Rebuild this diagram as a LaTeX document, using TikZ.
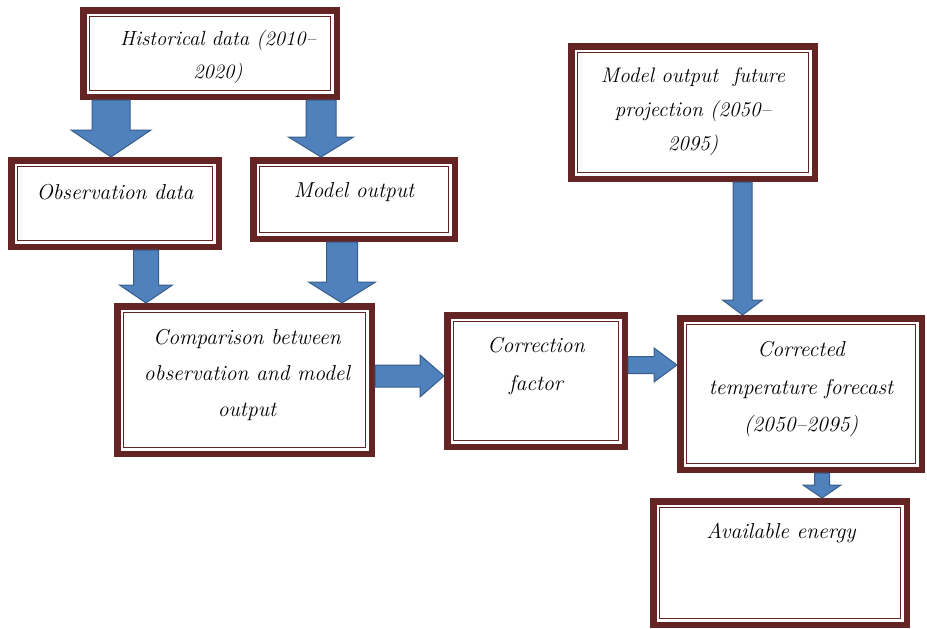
\documentclass[tikz,border=0pt]{standalone}
\usepackage{tikz}
\usetikzlibrary{positioning, calc}

\begin{document}
\begin{tikzpicture}
        [ x=1pt, y=-1pt
        , box/.style={draw=border, line width=6.5pt, fill=white, inner sep=0pt,
            path picture={\draw[border, line width=1.3pt]
              ([shift={(6pt,-6pt)}]path picture bounding box.north west) rectangle
              ([shift={(-6pt,6pt)}]path picture bounding box.south east);}}
        , txt/.style={font=\itshape\fontsize{21.6}{36}\selectfont, align=center, inner sep=0pt}
        , fat/.style={draw=arrowedge, fill=arrowfill, line width=1pt, line join=miter}
        ]
        \definecolor{border}{HTML}{632423}
        \definecolor{arrowfill}{HTML}{4F81BD}
        \definecolor{arrowedge}{HTML}{385D8A}
        % block arrows: from, to, half shaft, half head, head length
        \newcommand{\vfat}[5]{\draw[fat] ($(#1)+(-#3,0)$) -- ($(#2)+(-#3,-#5)$)
            -- ($(#2)+(-#4,-#5)$) -- (#2) -- ($(#2)+(#4,-#5)$)
            -- ($(#2)+(#3,-#5)$) -- ($(#1)+(#3,0)$) -- cycle;}
        \newcommand{\hfat}[5]{\draw[fat] ($(#1)+(0,-#3)$) -- ($(#2)+(-#5,-#3)$)
            -- ($(#2)+(-#5,-#4)$) -- (#2) -- ($(#2)+(-#5,#4)$)
            -- ($(#2)+(-#5,#3)$) -- ($(#1)+(0,#3)$) -- cycle;}

        \useasboundingbox (0,0) rectangle (927,629);

        \node (hist) [box, minimum width=253.5pt, minimum height=86.5pt] at (210,53.5) {};
            \node (histT) [txt, font=\itshape\fontsize{20.5}{33}\selectfont] at (218,56.5) {Historical data (2010--\\2020)};
        \node (obs) [box, minimum width=207.5pt, minimum height=86.5pt] at (115,203.5) {};
            \node (obsT) [txt] at (115,192) {Observation data};
        \node (mod) [box, minimum width=201.5pt, minimum height=78.5pt] at (354,199.5) {};
            \node (modT) [txt] at (354,192) {Model output};
        \node (cmp) [box, minimum width=254.5pt, minimum height=147.5pt] at (244.5,380) {};
            \node (cmpT) [txt] at (247,375) {Comparison between\\observation and model\\output};
        \node (cor) [box, minimum width=177.5pt, minimum height=131.5pt] at (536,381) {};
            \node (corT) [txt, font=\itshape\fontsize{21.6}{38}\selectfont] at (536,366) {Correction\\factor};
        \node (fut) [box, minimum width=243.5pt, minimum height=132.5pt] at (693,112.5) {};
            \node (futT) [txt, font=\itshape\fontsize{21}{34}\selectfont] at (693,112) {Model output~ future\\projection (2050--\\2095)};
        \node (fc) [box, minimum width=241.5pt, minimum height=151.5pt] at (801,394) {};
            \node (fcT) [txt, font=\itshape\fontsize{21.6}{37.5}\selectfont] at (801,389.5) {Corrected\\temperature forecast\\(2050--2095)};
        \node (av) [box, minimum width=253.5pt, minimum height=123.5pt] at (780,563) {};
            \node (avT) [txt] at (781,533) {Available energy};

        \coordinate (a1t) at ([xshift=-4pt]obs.north);
        \coordinate (a1f) at (hist.south -| a1t);
        \vfat{a1f}{a1t}{19}{40}{27}

        \coordinate (a2t) at ([xshift=-33pt]mod.north);
        \coordinate (a2f) at (hist.south -| a2t);
        \vfat{a2f}{a2t}{15}{32.5}{20}

        \coordinate (a3f) at ([xshift=31pt]obs.south);
        \coordinate (a3t) at (cmp.north -| a3f);
        \vfat{a3f}{a3t}{12.5}{26.5}{18}

        \coordinate (a4f) at ([xshift=-12pt]mod.south);
        \coordinate (a4t) at (cmp.north -| a4f);
        \vfat{a4f}{a4t}{15.5}{33.5}{21}

        \coordinate (a5f) at ([xshift=49.5pt]fut.south);
        \coordinate (a5t) at (fc.north -| a5f);
        \vfat{a5f}{a5t}{9.5}{20}{15}

        \coordinate (a6f) at ([xshift=21pt]fc.south);
        \coordinate (a6t) at (av.north -| a6f);
        \vfat{a6f}{a6t}{7.5}{19}{13}

        \coordinate (a7f) at ([yshift=4pt]cmp.east);
        \coordinate (a7t) at (cor.west |- a7f);
        \hfat{a7f}{a7t}{11}{21}{24}

        \coordinate (a8f) at ([yshift=16pt]cor.east);
        \coordinate (a8t) at (fc.west |- a8f);
        \hfat{a8f}{a8t}{8.5}{17}{23}

    \end{tikzpicture}
\end{document}
